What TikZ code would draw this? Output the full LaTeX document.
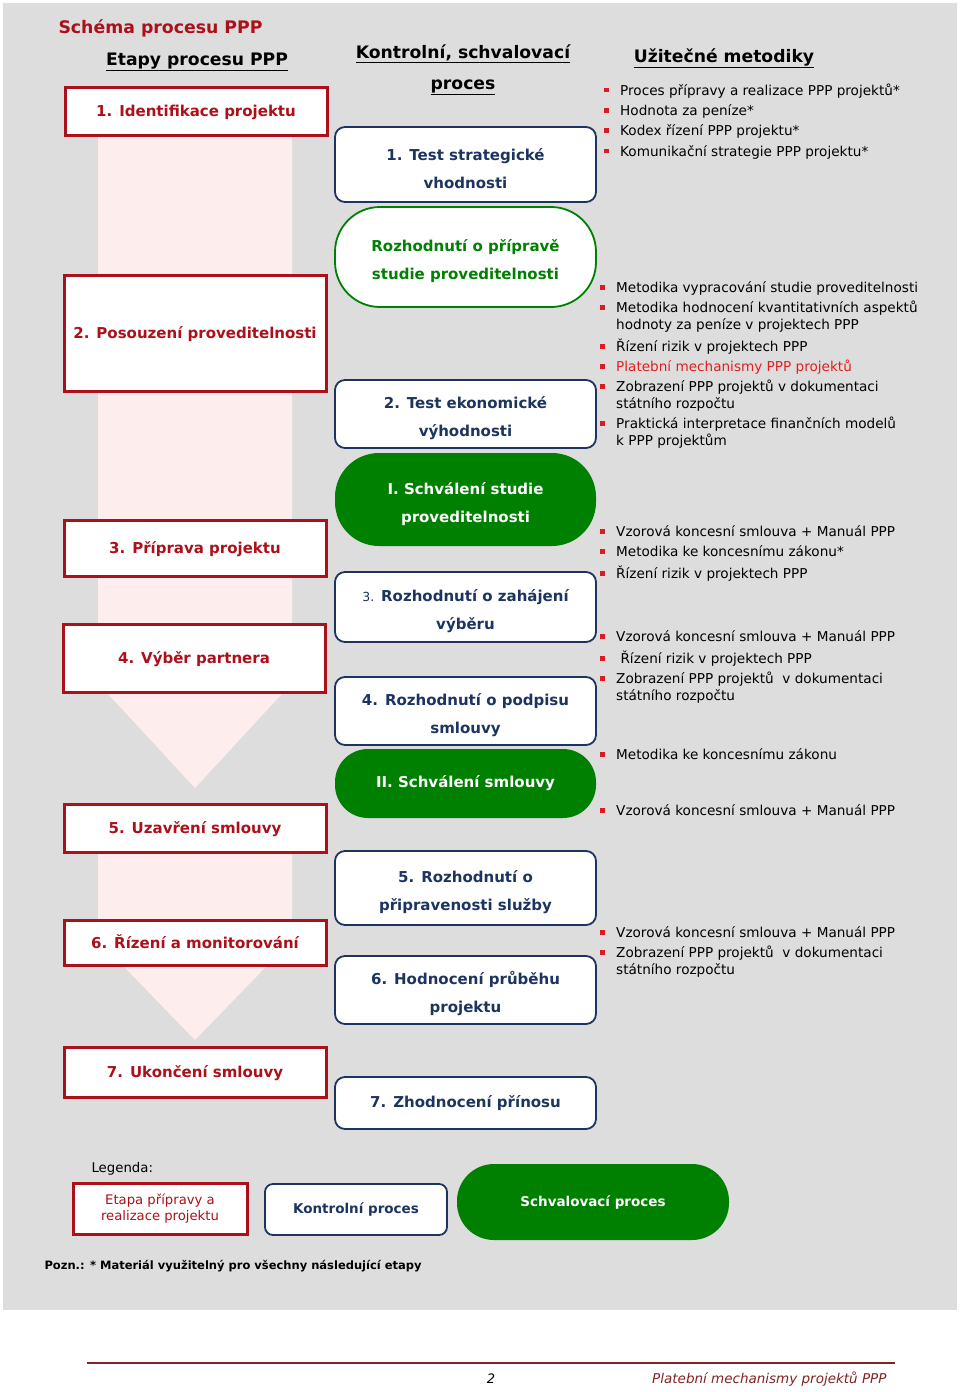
\documentclass[tikz,border=0pt]{standalone}
\usepackage{fontspec}
\setmainfont{DejaVu Sans}
\definecolor{ppred}{RGB}{172,16,26}
\definecolor{ppbul}{RGB}{214,28,36}
\definecolor{pplink}{RGB}{226,30,30}
\definecolor{ppnavy}{RGB}{28,52,96}
\definecolor{ppgreen}{RGB}{0,128,0}
\definecolor{ppgray}{RGB}{221,221,221}
\definecolor{pppink}{RGB}{253,237,236}
\definecolor{ppbrown}{RGB}{128,36,36}
\newcommand\pbul{\strut\makebox[16pt][l]{\textcolor{ppbul}{\rule[2.8pt]{4.8pt}{4.8pt}}}}
\newcommand\pind{\strut\hspace*{16pt}}
\newcommand\pvys{\rule{0pt}{21pt}}
\tikzset{
	etapa/.style={draw=ppred, line width=3pt, fill=white, minimum width=262pt, text=ppred, text height=11pt, text depth=0pt, font=\fontsize{15}{18}\selectfont\bfseries},
	legetapa/.style={draw=ppred, line width=3pt, fill=white, text=ppred, align=center},
	kontrola/.style={draw=ppnavy, line width=1.8pt, fill=white, rounded corners=10pt, minimum width=261pt, text=ppnavy, align=center, font=\fontsize{15}{28}\selectfont\bfseries},
	schvaleni/.style={fill=ppgreen, minimum width=261pt, text=white, align=center, font=\fontsize{15}{28}\selectfont\bfseries},
	hlava/.style={anchor=base, font=\fontsize{17.2}{20}\selectfont\bfseries},
	metodika/.style={anchor=north west, inner sep=0pt, align=left, font=\fontsize{13.6}{17}\selectfont}
}
\begin{document}
\begin{tikzpicture}[x=1pt, y=-1pt]
			%%%%% START %%%%%
			\useasboundingbox (0,0) rectangle (960,1392);
			\fill[white] (0,0) rectangle (960,1392);
			\fill[ppgray] (3,3) rectangle (957,1310);
			
			% arrows behind the stages
			\fill[pppink] (98,135) -- (292,135) -- (292,683) -- (195,788) -- (98,683) -- cycle;
			\fill[pppink] (98,852) -- (292,852) -- (292,940) -- (195,1040) -- (98,940) -- cycle;
			
			% headings
			\node[anchor=base west, text=ppred, font=\fontsize{17.3}{20}\selectfont\bfseries] (nadpis) at (55,33) {Schéma procesu PPP};
			\node[hlava] (etapy) at (197,65) {\underline{Etapy procesu PPP}};
			\node[hlava] (kontrolni) at (463,58) {\underline{Kontrolní, schvalovací}};
			\node[hlava] (proces) at (463,89) {\underline{proces}};
			\node[hlava] (uzitecne) at (724,62) {\underline{Užitečné metodiky}};
			
			% stages
			\node[etapa, minimum height=48pt] (e1) at (196,111) {1. Identifikace projektu};
			\node[etapa, minimum height=116pt] (e2) at (195,333) {2. Posouzení proveditelnosti};
			\node[etapa, minimum height=56pt] (e3) at (195,548) {3. Příprava projektu};
			\node[etapa, minimum height=68pt] (e4) at (194,658) {4. Výběr partnera};
			\node[etapa, minimum height=48pt] (e5) at (195,828) {5. Uzavření smlouvy};
			\node[etapa, minimum height=45pt] (e6) at (195,942.5) {6. Řízení a monitorování};
			\node[etapa, minimum height=50pt] (e7) at (195,1072) {7. Ukončení smlouvy};
			
			% control and approval
			\node[kontrola, minimum height=75pt] (k1) at (465.5,164.5) {\pvys 1. Test strategické\\vhodnosti};
			\node[schvaleni, fill=white, draw=ppgreen, line width=1.8pt, text=ppgreen, rounded corners=45pt, minimum height=100pt] (s0) at (465.5,257) {\pvys Rozhodnutí o přípravě\\studie proveditelnosti};
			\node[kontrola, minimum height=68pt] (k2) at (465.5,414) {\pvys 2. Test ekonomické\\výhodnosti};
			\node[schvaleni, rounded corners=44pt, minimum height=93pt] (s1) at (465.5,499.5) {\pvys I. Schválení studie\\proveditelnosti};
			\node[kontrola, minimum height=70pt] (k3) at (465.5,607) {\pvys{\fontsize{12.5}{28}\selectfont\mdseries 3.} Rozhodnutí o zahájení\\výběru};
			\node[kontrola, minimum height=68pt] (k4) at (465.5,711) {\pvys 4. Rozhodnutí o podpisu\\smlouvy};
			\node[schvaleni, rounded corners=33pt, minimum height=69pt] (s2) at (465.5,783.5) {II. Schválení smlouvy};
			\node[kontrola, minimum height=74pt] (k5) at (465.5,888) {\pvys 5. Rozhodnutí o\\připravenosti služby};
			\node[kontrola, minimum height=68pt] (k6) at (465.5,990) {\pvys 6. Hodnocení průběhu\\projektu};
			\node[kontrola, minimum height=52pt] (k7) at (465.5,1103) {7. Zhodnocení přínosu};
			
			% methods
			\node[metodika] (m1) at (604,83.1) {\pbul Proces přípravy a realizace PPP projektů*\\[3.3pt]\pbul Hodnota za peníze*\\[3.3pt]\pbul Kodex řízení PPP projektu*\\[3.3pt]\pbul Komunikační strategie PPP projektu*};
			\node[metodika] (m2) at (600,280.6) {\pbul Metodika vypracování studie proveditelnosti\\[3pt]\pbul Metodika hodnocení kvantitativních aspektů\\\pind hodnoty za peníze v projektech PPP\\[3pt]\pbul Řízení rizik v projektech PPP\\[3pt]\pbul\textcolor{pplink}{Platební mechanismy PPP projektů}\\[3pt]\pbul Zobrazení PPP projektů v dokumentaci\\\pind státního rozpočtu\\[3pt]\pbul Praktická interpretace finančních modelů\\\pind k PPP projektům};
			\node[metodika] (m3) at (600,524.6) {\pbul Vzorová koncesní smlouva + Manuál PPP\\[3pt]\pbul Metodika ke koncesnímu zákonu*\\[3pt]\pbul Řízení rizik v projektech PPP};
			\node[metodika] (m4) at (600,629.6) {\pbul Vzorová koncesní smlouva + Manuál PPP\\[3pt]\pbul\ Řízení rizik v projektech PPP\\[3pt]\pbul Zobrazení PPP projektů\ \ v dokumentaci\\\pind státního rozpočtu};
			\node[metodika] (m5) at (600,747.6) {\pbul Metodika ke koncesnímu zákonu};
			\node[metodika] (m6) at (600,803.6) {\pbul Vzorová koncesní smlouva + Manuál PPP};
			\node[metodika] (m7) at (600,925.6) {\pbul Vzorová koncesní smlouva + Manuál PPP\\[3pt]\pbul Zobrazení PPP projektů\ \ v dokumentaci\\\pind státního rozpočtu};
			
			% legend
			\node[anchor=base west, font=\fontsize{13.3}{14}\selectfont] (legenda) at (88,1172) {Legenda:};
			\node[legetapa, minimum width=174pt, minimum height=51pt, font=\fontsize{13.2}{16.5}\selectfont] (leg1) at (160,1208.5) {Etapa přípravy a\\realizace projektu};
			\node[kontrola, minimum width=182pt, minimum height=51pt, rounded corners=8pt, font=\fontsize{13.5}{14}\selectfont\bfseries] (leg2) at (356,1209.5) {Kontrolní proces};
			\node[schvaleni, minimum width=272pt, minimum height=76pt, rounded corners=37pt, font=\fontsize{13.5}{14}\selectfont\bfseries] (leg3) at (593,1202) {Schvalovací proces};
			\node[anchor=base west, font=\fontsize{11.5}{12}\selectfont\bfseries] (pozn) at (41,1269) {Pozn.: * Materiál využitelný pro všechny následující etapy};
			
			% footer
			\draw[ppbrown, line width=1.2pt] (87,1363) -- (895,1363);
			\node[anchor=base, font=\fontsize{13}{14}\selectfont\itshape] (strana) at (491,1383) {2};
			\node[anchor=base east, text=ppbrown, font=\fontsize{13.5}{14}\selectfont\itshape] (patka) at (890,1383) {Platební mechanismy projektů PPP};
			%%%%% END %%%%%
\end{tikzpicture}
\end{document}
